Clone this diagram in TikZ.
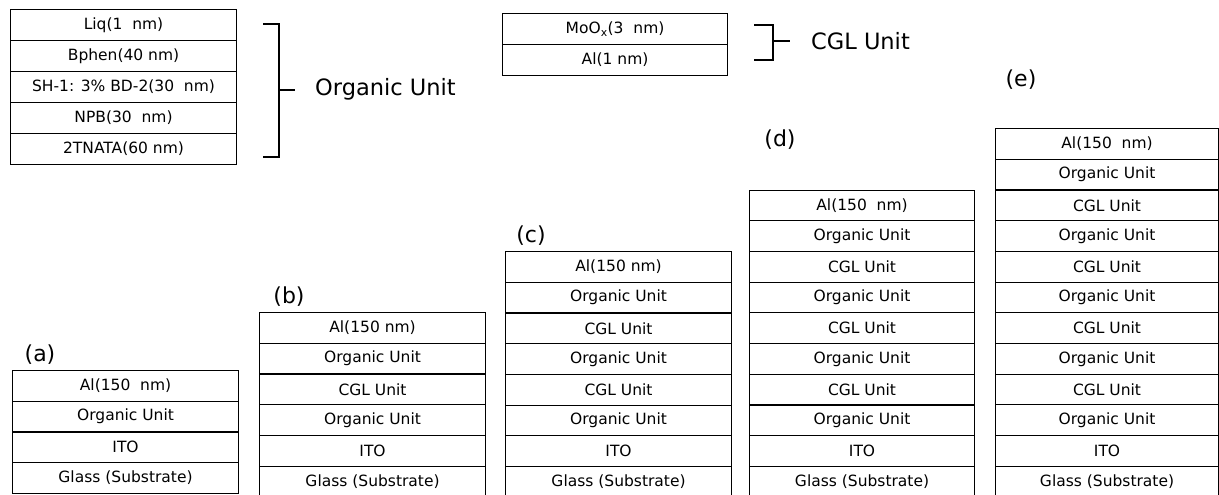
\documentclass[tikz,border=0pt]{standalone}
\usepackage{fontspec}
\setmainfont{DejaVu Sans}
\begin{document}
\begin{tikzpicture}[x=1pt,y=-1pt,
  layer/.style={draw=black, line width=1.1pt, minimum height=30.7pt, inner sep=0pt,
    anchor=north west, font=\fontsize{15.5}{15.5}\selectfont},
  toplayer/.style={layer, minimum height=31pt},
  tag/.style={font=\fontsize{22}{22}\selectfont, inner sep=0pt},
  unitlabel/.style={font=\fontsize{22.5}{22.5}\selectfont, inner sep=0pt, anchor=west},
  brace/.style={draw=black, line width=1.2pt}]
\useasboundingbox (0,0) rectangle (1219,495);

% Organic unit detail
\foreach \t [count=\i] in {Liq(1\ \ nm), Bphen(40 nm), {SH-1: 3\% BD-2(30\ \ nm)}, NPB(30\ \ nm), 2TNATA(60 nm)}
  \node[toplayer, minimum width=226pt] (o\i) at ({10},{9+(\i-1)*31}) {\t};
\coordinate (ob1) at (263,24); \coordinate (ob2) at (279,24);
\coordinate (ob3) at (279,157); \coordinate (ob4) at (263,157);
\coordinate (obm) at (279,90); \coordinate (obt) at (295,90);
\draw[brace] (ob1) -- (ob2) -- (ob3) -- (ob4);
\draw[brace] (obm) -- (obt);
\node[unitlabel] (olab) at (315,89) {Organic Unit};

% CGL unit detail
\foreach \t [count=\i] in {MoO\textsubscript{x}(3\ \ nm), Al(1 nm)}
  \node[toplayer, minimum width=225pt] (c\i) at ({502},{13+(\i-1)*31}) {\t};
\coordinate (cb1) at (754,25); \coordinate (cb2) at (773,25);
\coordinate (cb3) at (773,60); \coordinate (cb4) at (754,60);
\coordinate (cbm) at (773,41); \coordinate (cbt) at (790,41);
\draw[brace] (cb1) -- (cb2) -- (cb3) -- (cb4);
\draw[brace] (cbm) -- (cbt);
\node[unitlabel] (clab) at (811,41) {CGL Unit};

% (a)
\node[tag] (la) at (40,355) {(a)};
\foreach \t [count=\i] in {Al(150\ \ nm), Organic Unit, ITO, Glass (Substrate)}
  \node[layer, minimum width=226pt] (a\i) at ({12},{370+(\i-1)*30.7}) {\t};

% (b)
\node[tag] (lb) at (289,297) {(b)};
\foreach \t [count=\i] in {Al(150 nm), Organic Unit, CGL Unit, Organic Unit, ITO, Glass (Substrate)}
  \node[layer, minimum width=226pt] (b\i) at ({259},{312+(\i-1)*30.7}) {\t};

% (c)
\node[tag] (lc) at (531,236) {(c)};
\foreach \t [count=\i] in {Al(150 nm), Organic Unit, CGL Unit, Organic Unit, CGL Unit, Organic Unit, ITO, Glass (Substrate)}
  \node[layer, minimum width=226pt] (cc\i) at ({505},{251+(\i-1)*30.7}) {\t};

% (d)
\node[tag] (ld) at (780,140) {(d)};
\foreach \t [count=\i] in {Al(150\ \ nm), Organic Unit, CGL Unit, Organic Unit, CGL Unit, Organic Unit, CGL Unit, Organic Unit, ITO, Glass (Substrate)}
  \node[layer, minimum width=225pt] (d\i) at ({749},{189.5+(\i-1)*30.7}) {\t};

% (e)
\node[tag] (le) at (1021,80) {(e)};
\foreach \t [count=\i] in {Al(150\ \ nm), Organic Unit, CGL Unit, Organic Unit, CGL Unit, Organic Unit, CGL Unit, Organic Unit, CGL Unit, Organic Unit, ITO, Glass (Substrate)}
  \node[layer, minimum width=223pt] (e\i) at ({995},{128+(\i-1)*30.7}) {\t};
\end{tikzpicture}
\end{document}
